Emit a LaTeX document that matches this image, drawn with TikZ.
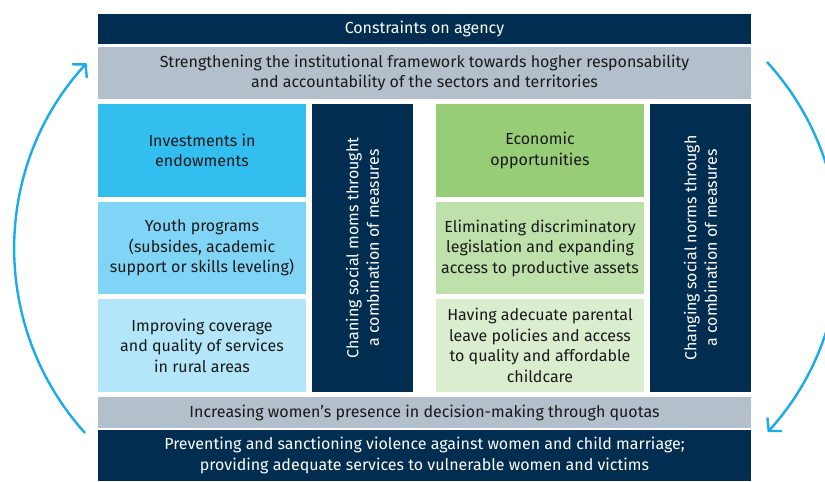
\documentclass[tikz,border=0pt]{standalone}
\usepackage{fontspec}
\setmainfont{Fira Sans}
\usetikzlibrary{arrows.meta}
\definecolor{navy}{HTML}{002D50}
\definecolor{graybar}{HTML}{B3C0CB}
\definecolor{blueA}{HTML}{33BEF0}
\definecolor{blueB}{HTML}{80D5F6}
\definecolor{blueC}{HTML}{B4E6FA}
\definecolor{greenA}{HTML}{98CD78}
\definecolor{greenB}{HTML}{BEE0AA}
\definecolor{greenC}{HTML}{DAEDCF}
\definecolor{arrowblue}{HTML}{1AACEA}
\definecolor{txt}{HTML}{1A1A1A}
\begin{document}
\begin{tikzpicture}[x=1pt,y=-1pt,
  box/.style={rectangle, inner sep=0pt, outer sep=0pt, align=center,
    font=\fontsize{16}{20.5}\selectfont, text=txt},
  darkbox/.style={box, fill=navy, text=white},
  vtext/.style={rotate=90, align=center, text=white, inner sep=0pt,
    font=\fontsize{16}{20.5}\selectfont},
  cyc/.style={draw=arrowblue, line width=2.4pt, -{Straight Barb[length=9pt,width=20pt]}}
]
\useasboundingbox (0,0) rectangle (825,482);
% top bars
\node[darkbox, minimum width=653, minimum height=30] (top) at (424.5,29) {Constraints on agency};
\node[box, fill=graybar, minimum width=653, minimum height=52] (inst) at (424.5,73)
  {Strengthening the institutional framework towards hogher responsability\\and accountability of the sectors and territories};
% left column
\node[box, fill=blueA, minimum width=208, minimum height=93] (inv) at (202,150.5) {Investments in\\endowments};
\node[box, fill=blueB, minimum width=208, minimum height=92] (youth) at (202,248) {Youth programs\\(subsides, academic\\support or skills leveling)};
\node[box, fill=blueC, minimum width=208, minimum height=93] (rural) at (202,345.5) {Improving coverage\\and quality of services\\in rural areas};
\node[darkbox, minimum width=101, minimum height=288] (v1) at (362.5,248) {};
\node[vtext] (v1t) at (v1.center) {Chaning social moms throught\\a combination of measures};
% right column
\node[box, fill=greenA, minimum width=208, minimum height=93] (eco) at (540,150.5) {Economic\\opportunities};
\node[box, fill=greenB, minimum width=208, minimum height=92] (legis) at (540,248) {Eliminating discriminatory\\legislation and expanding\\access to productive assets};
\node[box, fill=greenC, minimum width=208, minimum height=93] (leave) at (540,345.5) {Having adecuate parental\\leave policies and access\\to quality and affordable\\childcare};
\node[darkbox, minimum width=101, minimum height=288] (v2) at (700.5,248) {};
\node[vtext] (v2t) at (v2.center) {Changing social norms through\\a combination of measures};
% bottom bars
\node[box, fill=graybar, minimum width=653, minimum height=31] (quota) at (424.5,412.5) {Increasing women’s presence in decision-making through quotas};
\node[darkbox, minimum width=653, minimum height=51] (viol) at (424.5,455.5)
  {Preventing and sanctioning violence against women and child marriage;\\providing adequate services to vulnerable women and victims};
% cycle arrows
\coordinate (la) at (85,433);
\coordinate (ra) at (767,62);
\begin{scope}
\clip (0,0) rectangle (825,482);
\draw[cyc] (la) arc[start angle=138, end angle=222.5, radius=275];
\draw[cyc] (ra) arc[start angle=-42.4, end angle=42.2, radius=275];
\end{scope}
\end{tikzpicture}
\end{document}
